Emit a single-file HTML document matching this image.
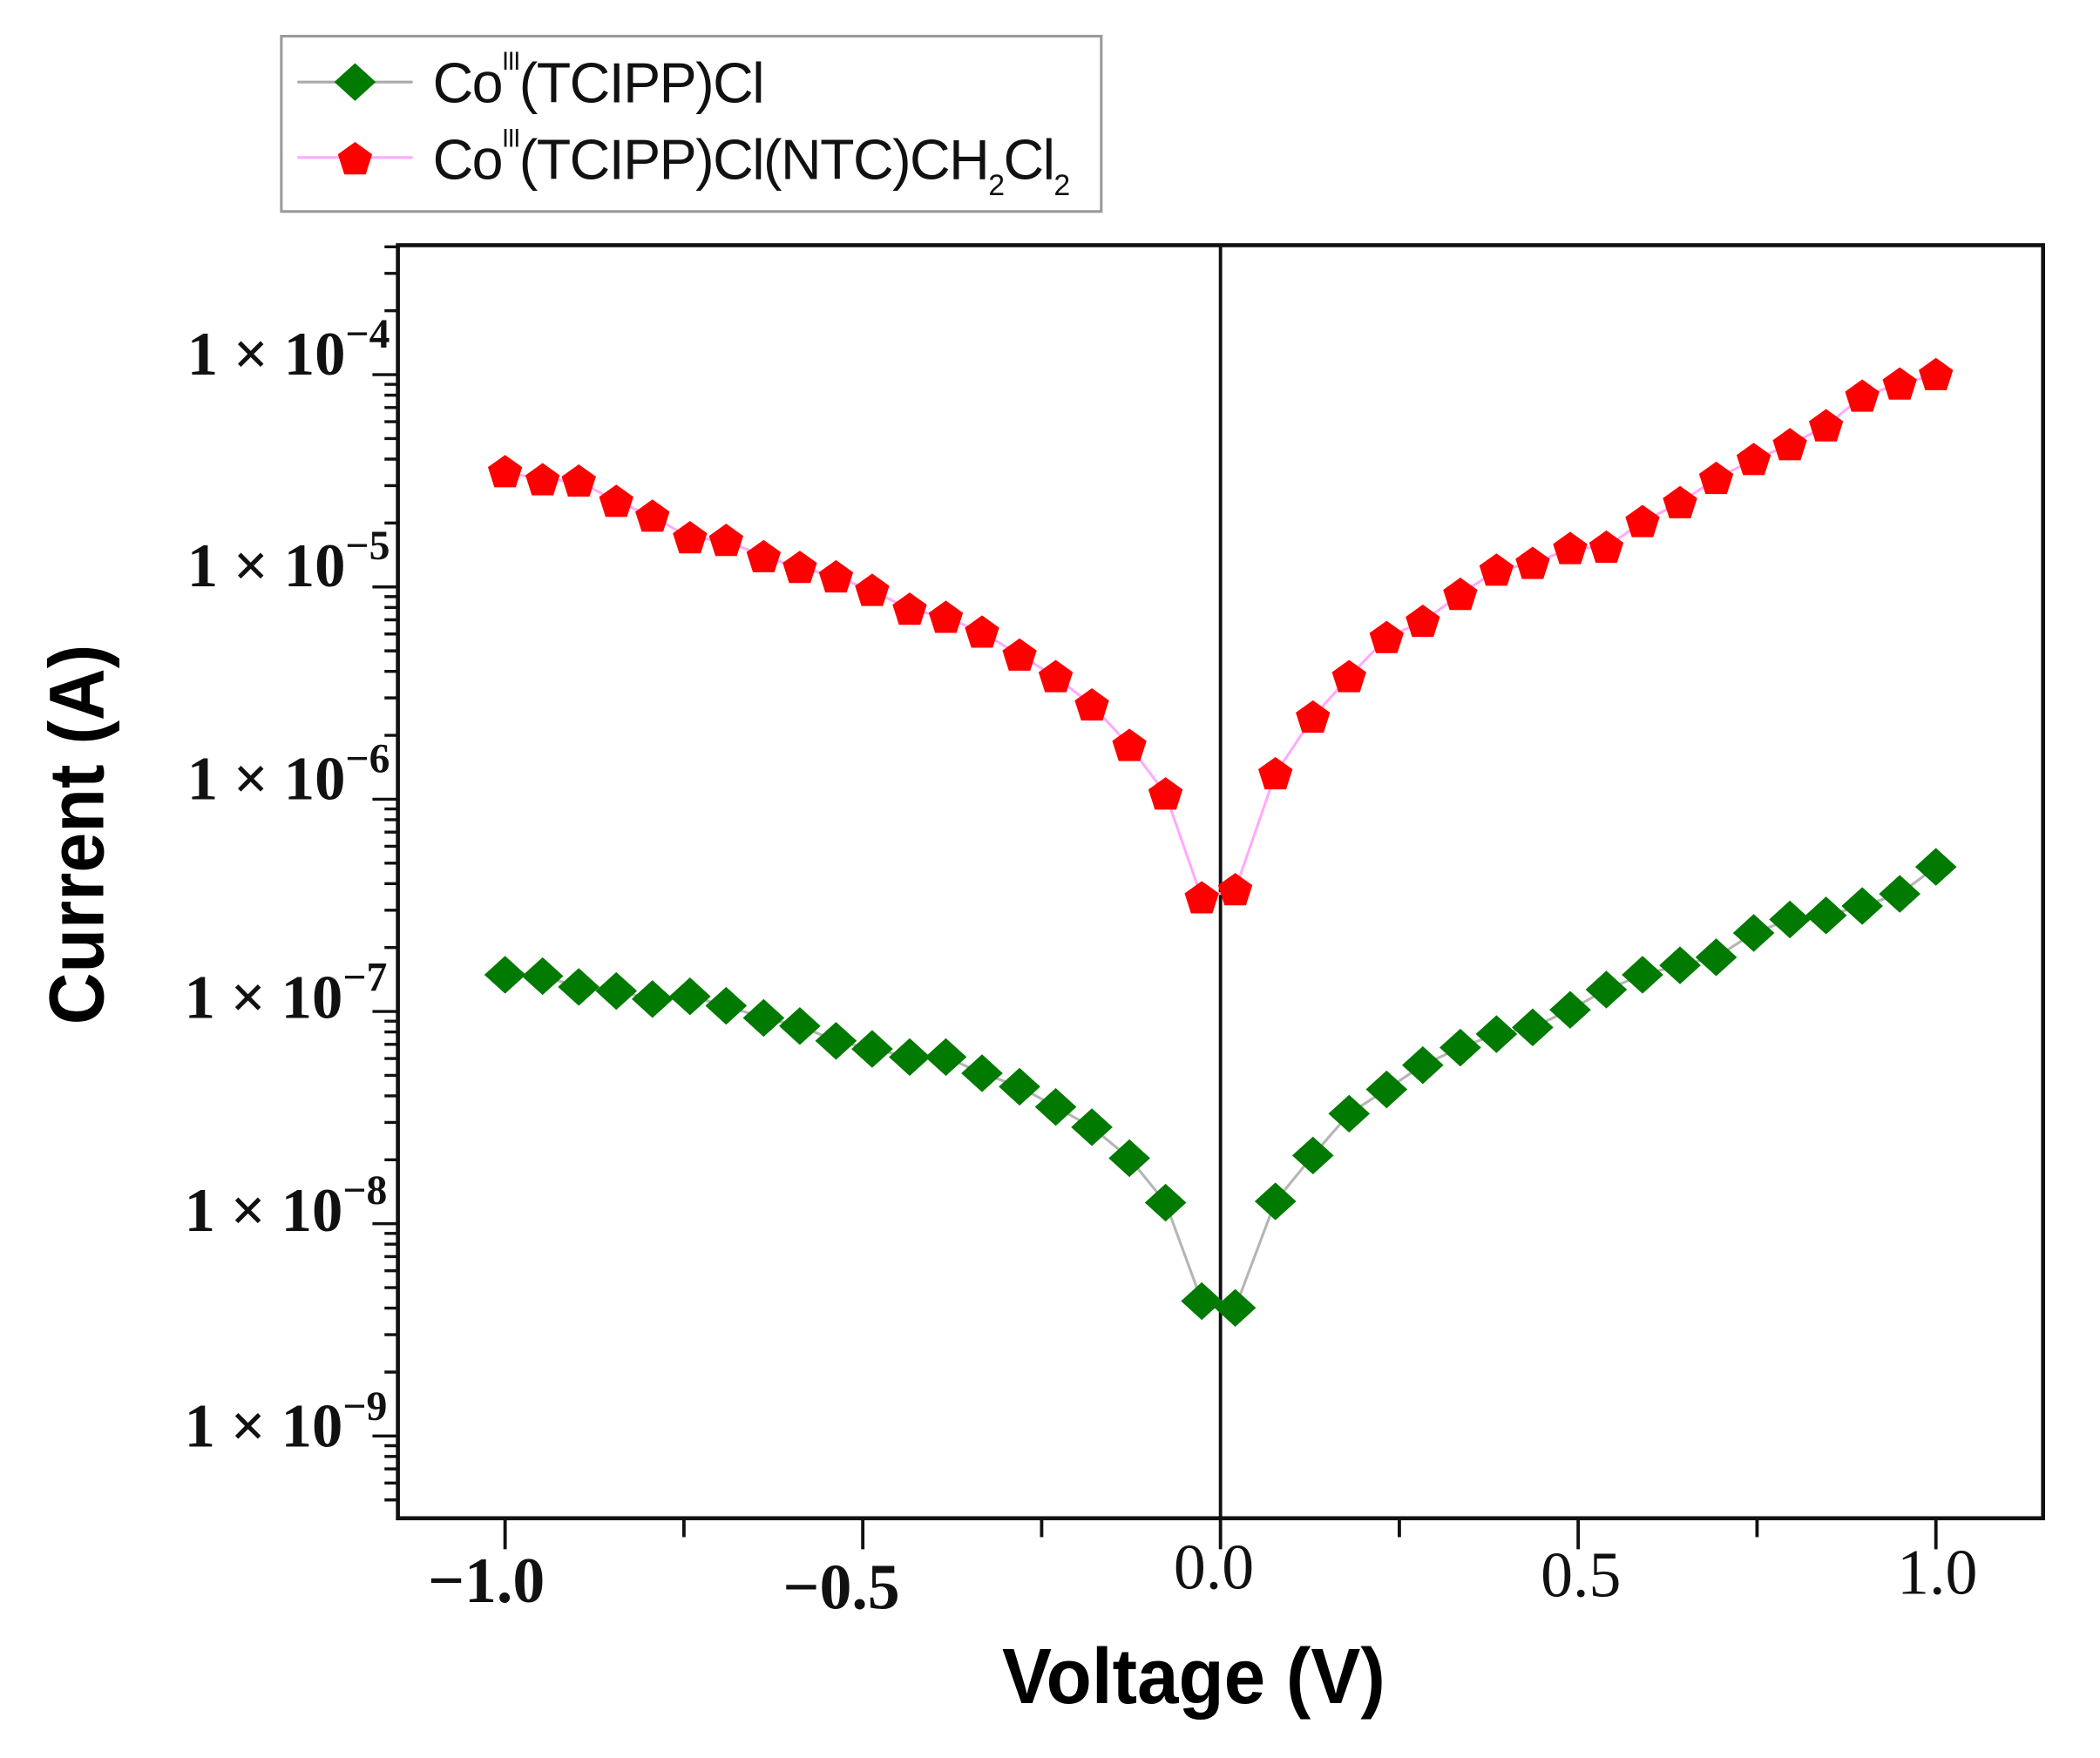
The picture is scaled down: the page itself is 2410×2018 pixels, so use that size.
<!DOCTYPE html>
<html><head><meta charset="utf-8"><style>
html,body{margin:0;padding:0;background:#fff;}
svg{display:block;}
</style></head><body>
<svg width="2410" height="2018" xmlns="http://www.w3.org/2000/svg">
<defs>
<clipPath id="cp"><rect x="250" y="187" width="60" height="944"/></clipPath>
<g id="dec" stroke="#111" stroke-width="2.2">
<line x1="278" y1="0" x2="297" y2="0"/>
<line x1="287" y1="-47.4" x2="297" y2="-47.4"/>
<line x1="287" y1="-75.1" x2="297" y2="-75.1"/>
<line x1="287" y1="-94.8" x2="297" y2="-94.8"/>
<line x1="287" y1="-110" x2="297" y2="-110"/>
<line x1="287" y1="-122.5" x2="297" y2="-122.5"/>
<line x1="287" y1="-133" x2="297" y2="-133"/>
<line x1="287" y1="-142.2" x2="297" y2="-142.2"/>
<line x1="287" y1="-150.2" x2="297" y2="-150.2"/>
</g>
<polygon id="dia" points="0,-14 15.5,0 0,14 -15.5,0" fill="#007a00"/>
<polygon id="pen" points="0,-12.5 12.8,-3.4 8,11.5 -8,11.5 -12.8,-3.4" fill="#ff0000"/>
</defs>
<rect width="2410" height="2018" fill="#fff"/>
<g transform="matrix(1.5375,0,0,1.548,0,-8)">
<!-- legend -->
<rect x="210" y="32" width="612" height="130" fill="#fff" stroke="#9a9a9a" stroke-width="2"/>
<line x1="222" y1="66" x2="308" y2="66" stroke="#aaa" stroke-width="2"/>
<use href="#dia" x="265" y="66"/>
<line x1="222" y1="122" x2="308" y2="122" stroke="#ffaaff" stroke-width="2"/>
<use href="#pen" x="265" y="123"/>
<text x="323" y="81" font-family="Liberation Sans, Arial, sans-serif" font-size="42" fill="#111" letter-spacing="-1">Co<tspan font-size="19" dy="-24">III</tspan><tspan dy="24">(TCIPP)Cl</tspan></text>
<text x="323" y="138" font-family="Liberation Sans, Arial, sans-serif" font-size="42" fill="#111" letter-spacing="-1">Co<tspan font-size="19" dy="-24">III</tspan><tspan dy="24">(TCIPP)Cl(NTC)CH</tspan><tspan font-size="22" dy="12">2</tspan><tspan dy="-12">Cl</tspan><tspan font-size="22" dy="12">2</tspan></text>

<!-- frame -->
<rect x="297" y="187" width="1228" height="944" fill="none" stroke="#111" stroke-width="3"/>
<line x1="911" y1="187" x2="911" y2="1131" stroke="#111" stroke-width="2.5"/>

<!-- y ticks -->
<g clip-path="url(#cp)">
<use href="#dec" y="283"/>
<use href="#dec" y="440.4"/>
<use href="#dec" y="597.8"/>
<use href="#dec" y="755.2"/>
<use href="#dec" y="912.6"/>
<use href="#dec" y="1070"/>
<use href="#dec" y="1227.4"/>
</g>
<!-- x ticks -->
<g stroke="#111" stroke-width="2.5">
<line x1="377" y1="1131" x2="377" y2="1154"/>
<line x1="644" y1="1131" x2="644" y2="1154"/>
<line x1="911" y1="1131" x2="911" y2="1154"/>
<line x1="1178" y1="1131" x2="1178" y2="1154"/>
<line x1="1445" y1="1131" x2="1445" y2="1154"/>
<line x1="510.5" y1="1131" x2="510.5" y2="1145"/>
<line x1="777.5" y1="1131" x2="777.5" y2="1145"/>
<line x1="1044.5" y1="1131" x2="1044.5" y2="1145"/>
<line x1="1311.5" y1="1131" x2="1311.5" y2="1145"/>
</g>

<!-- y labels -->
<g font-family="Liberation Serif, DejaVu Serif, serif" font-size="46" font-weight="bold" fill="#111" text-anchor="end" xml:space="preserve">
<text x="291" y="283">1 × 10<tspan font-size="31" dy="-20">−4</tspan></text>
<text x="291" y="440">1 × 10<tspan font-size="31" dy="-20">−5</tspan></text>
<text x="291" y="598">1 × 10<tspan font-size="31" dy="-20">−6</tspan></text>
<text x="289" y="760">1 × 10<tspan font-size="31" dy="-20">−7</tspan></text>
<text x="289" y="918">1 × 10<tspan font-size="31" dy="-20">−8</tspan></text>
<text x="289" y="1078">1 × 10<tspan font-size="31" dy="-20">−9</tspan></text>
</g>
<!-- x labels -->
<g font-family="Liberation Serif, DejaVu Serif, serif" font-size="48" fill="#111" text-anchor="middle">
<text x="363" y="1193" font-weight="bold">−1.0</text>
<text x="628" y="1198" font-weight="bold">−0.5</text>
<text x="906" y="1183">0.0</text>
<text x="1180" y="1189">0.5</text>
<text x="1446" y="1187">1.0</text>
</g>
<!-- axis titles -->
<text x="891" y="1268" text-anchor="middle" font-family="Liberation Sans, Arial, sans-serif" font-weight="bold" font-size="58" textLength="286" lengthAdjust="spacingAndGlyphs" fill="#000">Voltage (V)</text>
<text transform="translate(77,624) rotate(-90)" text-anchor="middle" font-family="Liberation Sans, Arial, sans-serif" font-weight="bold" font-size="58" textLength="282" lengthAdjust="spacingAndGlyphs" fill="#000">Current (A)</text>

<!-- series lines -->
<polyline fill="none" stroke="#b5b5b5" stroke-width="2" points="377,728 405,729 432,737 460,740 487,746 515,744 542,751 570,760 597,766 624,777 651,783 679,789 706,789 733,801 761,811 788,826 815,841 843,864 870,897 897,970 922,975 952,896 980,862 1007,831 1035,813 1062,795 1090,782 1117,772 1144,767 1172,754 1199,739 1226,728 1254,721 1281,715 1309,697 1336,687 1363,684 1390,677 1418,668 1445,648"/>
<polyline fill="none" stroke="#ffaaff" stroke-width="2" points="377,355 405,361 432,362 460,377 487,388 515,404 542,406 570,418 597,426 624,433 651,443 679,457 706,463 733,474 761,491 788,507 815,528 843,558 870,594 897,671 922,665 952,579 980,537 1007,507 1035,478 1062,466 1090,446 1117,428 1144,423 1172,412 1199,411 1226,392 1254,378 1281,360 1309,346 1336,335 1363,321 1390,299 1418,290 1445,283"/>

<!-- green markers -->
<g>
<use href="#dia" x="377" y="728"/><use href="#dia" x="405" y="729"/><use href="#dia" x="432" y="737"/><use href="#dia" x="460" y="740"/><use href="#dia" x="487" y="746"/><use href="#dia" x="515" y="744"/><use href="#dia" x="542" y="751"/><use href="#dia" x="570" y="760"/><use href="#dia" x="597" y="766"/><use href="#dia" x="624" y="777"/><use href="#dia" x="651" y="783"/><use href="#dia" x="679" y="789"/><use href="#dia" x="706" y="789"/><use href="#dia" x="733" y="801"/><use href="#dia" x="761" y="811"/><use href="#dia" x="788" y="826"/><use href="#dia" x="815" y="841"/><use href="#dia" x="843" y="864"/><use href="#dia" x="870" y="897"/><use href="#dia" x="897" y="970"/><use href="#dia" x="922" y="975"/><use href="#dia" x="952" y="896"/><use href="#dia" x="980" y="862"/><use href="#dia" x="1007" y="831"/><use href="#dia" x="1035" y="813"/><use href="#dia" x="1062" y="795"/><use href="#dia" x="1090" y="782"/><use href="#dia" x="1117" y="772"/><use href="#dia" x="1144" y="767"/><use href="#dia" x="1172" y="754"/><use href="#dia" x="1199" y="739"/><use href="#dia" x="1226" y="728"/><use href="#dia" x="1254" y="721"/><use href="#dia" x="1281" y="715"/><use href="#dia" x="1309" y="697"/><use href="#dia" x="1336" y="687"/><use href="#dia" x="1363" y="684"/><use href="#dia" x="1390" y="677"/><use href="#dia" x="1418" y="668"/><use href="#dia" x="1445" y="648"/>
</g>
<!-- red markers -->
<g>
<use href="#pen" x="377" y="355"/><use href="#pen" x="405" y="361"/><use href="#pen" x="432" y="362"/><use href="#pen" x="460" y="377"/><use href="#pen" x="487" y="388"/><use href="#pen" x="515" y="404"/><use href="#pen" x="542" y="406"/><use href="#pen" x="570" y="418"/><use href="#pen" x="597" y="426"/><use href="#pen" x="624" y="433"/><use href="#pen" x="651" y="443"/><use href="#pen" x="679" y="457"/><use href="#pen" x="706" y="463"/><use href="#pen" x="733" y="474"/><use href="#pen" x="761" y="491"/><use href="#pen" x="788" y="507"/><use href="#pen" x="815" y="528"/><use href="#pen" x="843" y="558"/><use href="#pen" x="870" y="594"/><use href="#pen" x="897" y="671"/><use href="#pen" x="922" y="665"/><use href="#pen" x="952" y="579"/><use href="#pen" x="980" y="537"/><use href="#pen" x="1007" y="507"/><use href="#pen" x="1035" y="478"/><use href="#pen" x="1062" y="466"/><use href="#pen" x="1090" y="446"/><use href="#pen" x="1117" y="428"/><use href="#pen" x="1144" y="423"/><use href="#pen" x="1172" y="412"/><use href="#pen" x="1199" y="411"/><use href="#pen" x="1226" y="392"/><use href="#pen" x="1254" y="378"/><use href="#pen" x="1281" y="360"/><use href="#pen" x="1309" y="346"/><use href="#pen" x="1336" y="335"/><use href="#pen" x="1363" y="321"/><use href="#pen" x="1390" y="299"/><use href="#pen" x="1418" y="290"/><use href="#pen" x="1445" y="283"/>
</g>
</g>
</svg>
</body></html>
